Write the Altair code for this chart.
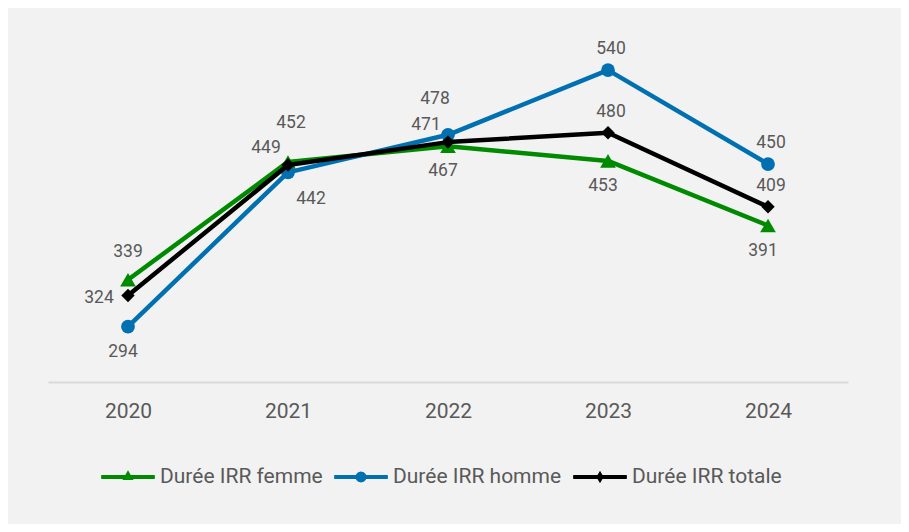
import altair as alt
import pandas as pd

# ---- data ----
years = ["2020", "2021", "2022", "2023", "2024"]
femme = [339, 452, 467, 453, 391]
homme = [294, 442, 478, 540, 450]
totale = [324, 449, 471, 480, 409]

series_names = ["Durée IRR femme", "Durée IRR homme", "Durée IRR totale"]
series_colors = ["#008A00", "#0070B0", "#000000"]

# label placement keywords (Excel-like label positions)
place_femme = ["above_mid", "above_far", "below", "below", "below"]
place_homme = ["below", "below_right", "above_far_left", "above", "above"]
place_totale = ["left", "above_left", "above_left", "above", "above"]

# ---- styling ----
PLACE_OFFSETS = {
    "above": (3, -21),
    "above_mid": (0, -28),
    "above_far": (3, -39),
    "above_far_left": (-13, -36),
    "below": (-5, 25),
    "below_right": (23, 27),
    "left": (-29, 3),
    "above_left": (-22, -17.5),
}
MARKERS = {
    "Durée IRR femme": ("triangle-up", 246),
    "Durée IRR homme": ("circle", 190),
    "Durée IRR totale": ("diamond", 180),
}
LINE = "M-0.93,-0.075L0.93,-0.075L0.96,-0.06L0.96,0.06L0.93,0.075L-0.93,0.075L-0.96,0.06L-0.96,-0.06Z"
LEGEND_PATHS = [
    LINE + " M0,-0.24L0.2,0.11L-0.2,0.11Z",
    LINE + " M0.2,0L0.173,0.1L0.1,0.173L0,0.2L-0.1,0.173L-0.173,0.1L-0.2,0L-0.173,-0.1L-0.1,-0.173L0,-0.2L0.1,-0.173L0.173,-0.1Z",
    LINE + " M0,-0.22L0.13,0L0,0.22L-0.13,0Z",
]
TEXT_COLOR = "#595959"
FONT = "Roboto"

rows = []
for name, vals, places in zip(series_names, [femme, homme, totale],
                              [place_femme, place_homme, place_totale]):
    for y, v, p in zip(years, vals, places):
        rows.append({"year": y, "serie": name, "value": v, "place": p})
df = pd.DataFrame(rows)

color_scale = alt.Scale(domain=series_names, range=series_colors)
x_enc = alt.X(
    "year:O",
    scale=alt.Scale(type="point", padding=0.5),
    axis=alt.Axis(
        title=None, labelAngle=0, labelFont=FONT, labelFontSize=21,
        labelColor=TEXT_COLOR, domainColor="#d9d9d9", domainWidth=2,
        ticks=False, tickSize=0, labelPadding=35, labelBaseline="alphabetic",
        grid=False,
    ),
)
y_enc = alt.Y("value:Q", scale=alt.Scale(domain=[241, 590], zero=False, nice=False), axis=None)
base = alt.Chart(df)

layers = []
for name in series_names:
    shape, size = MARKERS[name]
    sub = base.transform_filter(alt.datum.serie == name)
    layers.append(
        sub.mark_line(strokeWidth=4.5, strokeJoin="round", strokeCap="round").encode(
            x=x_enc, y=y_enc,
            color=alt.value(series_colors[series_names.index(name)]),
        )
    )
    layers.append(
        sub.mark_point(shape=shape, size=size, filled=True, opacity=1).encode(
            x=x_enc, y=y_enc,
            color=alt.value(series_colors[series_names.index(name)]),
        )
    )

for place, (dx, dy) in PLACE_OFFSETS.items():
    layers.append(
        base.transform_filter(alt.datum.place == place)
        .mark_text(dx=dx, dy=dy, font=FONT, fontSize=17.5, color=TEXT_COLOR,
                   align="center", baseline="middle")
        .encode(x=x_enc, y=y_enc, text="value:Q")
    )

legend_props = dict(
    title=None, orient="none", legendX=52, legendY=431, direction="horizontal",
    labelFont=FONT, labelFontSize=21, labelColor=TEXT_COLOR, labelLimit=400,
    symbolSize=3136, symbolStrokeWidth=0, labelOffset=4, columnPadding=10,
    symbolOpacity=1,
)
legend_layer = base.mark_point(filled=True, size=0, opacity=1).encode(
    x=x_enc, y=y_enc,
    color=alt.Color("serie:N", scale=color_scale, legend=alt.Legend(**legend_props)),
    shape=alt.Shape("serie:N", scale=alt.Scale(domain=series_names, range=LEGEND_PATHS),
                    legend=alt.Legend(**legend_props)),
)
layers.append(legend_layer)

chart = alt.layer(*layers).properties(
    width=800, height=364,
    padding={"left": 40, "top": 10, "right": 53, "bottom": 142},
    autosize=alt.AutoSizeParams(type="none"),
    background="#f2f2f2",
).configure_view(stroke=None)

chart.save("out.html", embed_options={"renderer": "svg", "actions": False})
